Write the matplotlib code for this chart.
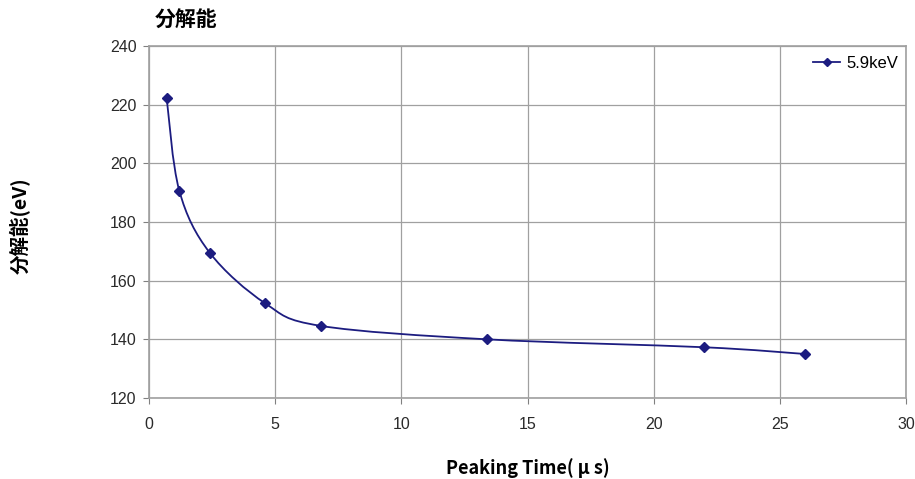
import numpy as np
import matplotlib.pyplot as plt
from matplotlib.path import Path
from matplotlib.patches import PathPatch
from matplotlib.lines import Line2D

plt.rcParams['font.family'] = ['Liberation Sans', 'Noto Sans CJK JP', 'DejaVu Sans']

# data
peaking_time = [0.7, 1.2, 2.4, 4.6, 6.8, 13.4, 22.0, 26.0]
resolution = [222.2, 190.7, 169.6, 152.3, 144.6, 140.0, 137.3, 135.0]
series_name = "5.9keV"

x_ticks = [0, 5, 10, 15, 20, 25, 30]
y_ticks = [120, 140, 160, 180, 200, 220, 240]

navy = "#1c1c80"
cjk = ['Noto Sans CJK JP', 'DejaVu Sans']


def smooth_path(xs, ys, k=1 / 6):
    # Excel-style smoothed line: cubic bezier through every point
    pts = np.column_stack([xs, ys]).astype(float)
    verts = [pts[0]]
    codes = [Path.MOVETO]
    n = len(pts)
    for i in range(n - 1):
        p0 = pts[max(i - 1, 0)]
        p1 = pts[i]
        p2 = pts[i + 1]
        p3 = pts[min(i + 2, n - 1)]
        c1 = p1 + (p2 - p0) * k
        c2 = p2 - (p3 - p1) * k
        verts += [c1, c2, p2]
        codes += [Path.CURVE4] * 3
    return Path(verts, codes)


fig = plt.figure(figsize=(9.15, 4.79), dpi=100)
ax = fig.add_axes([149 / 915, 1 - 398 / 479, (906 - 149) / 915, (398 - 46) / 479])

ax.add_patch(PathPatch(smooth_path(peaking_time, resolution), facecolor="none",
                       edgecolor=navy, lw=1.3, zorder=3))
ax.plot(peaking_time, resolution, ls="none", marker="D", ms=5.5, color=navy, zorder=4)

ax.set_xlim(0, 30)
ax.set_ylim(120, 240)
ax.set_xticks(x_ticks)
ax.set_yticks(y_ticks)
ax.grid(True, color="#a0a0a0", lw=0.9)
ax.set_axisbelow(True)
for s in ax.spines.values():
    s.set_color("#a0a0a0")
    s.set_linewidth(1.2)
ax.tick_params(axis="x", length=4, color="#808080", pad=10, labelsize=11.5, labelcolor="#2a2a2a")
ax.tick_params(axis="y", length=4, color="#808080", pad=5, labelsize=11.5, labelcolor="#2a2a2a")

leg_line = Line2D([], [], color=navy, marker="D", ms=4.5, lw=1.3)
ax.legend([leg_line], [series_name], loc="upper right", frameon=False,
          fontsize=12, handlelength=1.6, handletextpad=0.4,
          bbox_to_anchor=(1.01, 1.015))

fig.text(155 / 915, 1 - 20 / 479, "分解能", family=cjk, fontsize=15,
         fontweight="bold", va="center", ha="left")
fig.text(20 / 915, 1 - 226 / 479, "分解能(eV)", family=cjk, fontsize=14,
         fontweight="bold", rotation=90, va="center", ha="center")
fig.text(528 / 915, 1 - 468 / 479, "Peaking Time( μ s)", family=cjk, fontsize=13,
         fontweight="bold", va="center", ha="center")

fig.savefig("out.png", dpi=100)
